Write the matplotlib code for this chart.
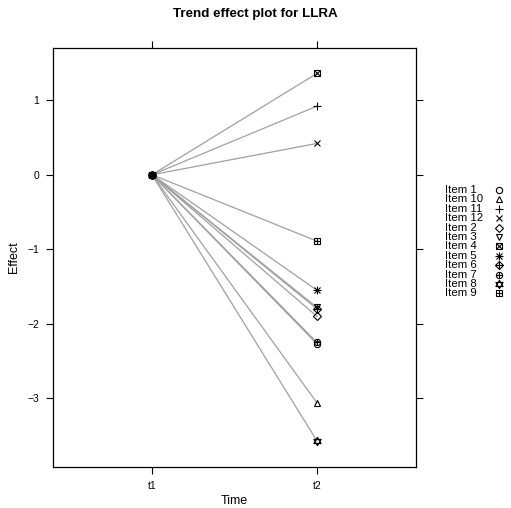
import matplotlib
matplotlib.use('Agg')
import matplotlib.pyplot as plt

plt.rcParams['font.family'] = ['Liberation Sans', 'DejaVu Sans']

items = ['Item 1', 'Item 10', 'Item 11', 'Item 12', 'Item 2', 'Item 3',
         'Item 4', 'Item 5', 'Item 6', 'Item 7', 'Item 8', 'Item 9']
times = ['t1', 't2']
eff_t1 = [0, 0, 0, 0, 0, 0, 0, 0, 0, 0, 0, 0]
eff_t2 = [-2.27, -3.06, 0.92, 0.42, -1.90, -1.78, 1.36, -1.55, -1.80, -2.25, -3.57, -0.89]

# star of david pieces (triangles centred on their centroid)
tri_up = [(0, 1), (-0.866, -0.5), (0.866, -0.5), (0, 1)]
tri_dn = [(0, -1), (-0.866, 0.5), (0.866, 0.5), (0, -1)]

# lattice pch 1..12 rebuilt from overlaid matplotlib markers
symbols = [
    [('o', 4.5)],
    [('^', 5)],
    [('+', 6)],
    [('x', 4.5)],
    [('D', 4)],
    [('v', 5)],
    [('s', 4.5), ('x', 4.5)],
    [('+', 6), ('x', 4.5)],
    [('D', 4.5), ('+', 6)],
    [('o', 4.5), ('+', 4.5)],
    [(tri_up, 6), (tri_dn, 6)],
    [('s', 4.5), ('+', 4.5)],
]

W, H = 511, 508
fig = plt.figure(figsize=(W / 100, H / 100), dpi=100)
ax = fig.add_axes([53 / W, 1 - 467 / H, (416 - 53) / W, (467 - 48) / H])

xs = [1, 2]
for name, a, b, sym in zip(items, eff_t1, eff_t2, symbols):
    ax.plot(xs, [a, b], color='#a0a0a0', lw=0.9, zorder=1)
    for m, s in sym:
        ax.plot(xs, [a, b], ls='none', marker=m, ms=s, mfc='none',
                mec='black', mew=0.8, zorder=3)

ax.set_xlim(0.4, 2.6)
ax.set_ylim(-3.92, 1.70)
ax.set_xticks(xs)
ax.set_xticklabels(times)
ax.set_yticks([-3, -2, -1, 0, 1])
ax.set_yticklabels(['\u22123', '\u22122', '\u22121', '0', '1'])
ax.tick_params(direction='out', length=5, width=0.8, labelsize=7.5,
               top=True, right=True, pad=5)
for sp in ax.spines.values():
    sp.set_linewidth(0.9)

ax.set_xlabel('Time', fontsize=9, va='center')
ax.set_ylabel('Effect', fontsize=9, va='center')
ax.xaxis.set_label_coords(0.5, -(501 - 467) / (467 - 48))
ax.yaxis.set_label_coords(-(53 - 14) / (416 - 53), 0.5)
fig.text(0.5, 1 - 14 / H, 'Trend effect plot for LLRA', fontsize=9.6,
         fontweight='bold', ha='center', va='center')

# key on the right, text left-aligned with the symbol after it
lax = fig.add_axes([440 / W, 1 - 300 / H, 71 / W, 117 / H])
lax.set_xlim(440, 511)
lax.set_ylim(300, 183)
lax.axis('off')
for i, (name, sym) in enumerate(zip(items, symbols)):
    yy = 190 + i * 9.4
    lax.text(445, yy, name, fontsize=8.2, va='center', ha='left')
    for m, s in sym:
        lax.plot([499], [yy], ls='none', marker=m, ms=s, mfc='none',
                 mec='black', mew=0.8)

fig.savefig('out.png', dpi=100)
